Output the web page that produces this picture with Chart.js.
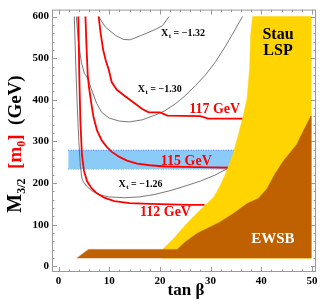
<!DOCTYPE html>
<html><head><meta charset="utf-8">
<script src="https://cdn.jsdelivr.net/npm/chart.js@4.4.0/dist/chart.umd.min.js"></script>
<style>html,body{margin:0;padding:0;background:#fff;}#wrap{width:325px;height:307px;}</style>
</head><body><div id="wrap"><canvas id="c" width="325" height="307"></canvas></div>
<script>
// ---- tick labels ----
const xTicks=[0,10,20,30,40,50];
const yTicks=[0,100,200,300,400,500,600];
// ---- Higgs mass contours (tan beta, M3/2) ----
const h112X=[3.9,4.1,4.3,4.6,5.0,5.6,6.5,7.5,9.0,11.0,14.0,18.0,22.0,26.0,28.8];
const h112Y=[600,450,350,270,230,205,188,176,165,157,152,150,149,148,148];
const h115X=[5.3,5.5,5.75,6.0,6.4,6.9,7.6,8.5,9.5,10.5,12,13.5,15.5,18,21,25,30,34.4];
const h115Y=[600,530,460,430,396,358,326,303,287,275,263,254,247,243,240,239,238,237];
const h117X=[7.9,8.3,8.8,9.3,9.9,10.5,11.5,13,15,16.5,17.8,20,21.5,28,29.5,36.8];
const h117Y=[600,560,520,495,472,442,424,410,392,378,370,370,362,361,355,355];
// ---- X_t contours ----
const xt132X=[7.9,9.2,11.2,12.8,14.1,16.4,19.1,20.5,21.8];
const xt132Y=[600,575,555,545,544,555,569,578,600];
const xt130X=[3.5,3.9,4.5,5.1,5.4,5.8,6.4,7.5,8.5,10,12,14,16.5,19,21,23,25,27,29,31,33,34.8,36.3];
const xt130Y=[600,540,490,463,458,450,428,392,370,356,349,347,352,363,374,390,410,434,460,492,530,568,600];
const xt126X=[3.1,3.4,3.7,4.0,4.3,4.6,4.9,5.5,6.5,8,10,13,16,19,22,25,28,31,33,34.5];
const xt126Y=[600,480,380,300,240,212,203,193,182,172,167,165,167,173,182,193,205,220,233,243];
// ---- blue band ----
const bandX=[1.9,36];
const bandLow=234, bandHigh=279;
// ---- Stau LSP region ----
const stauX=[20.5,22.7,25.3,27.9,30.6,31.9,33.2,34.5,35.5,36.5,37.2,37.7,37.9,38.3,49.8,49.8,20.5];
const stauY=[41,67,103,135,166,194,230,273,317,365,404,475,555,600,600,20,20];
// ---- EWSB region ----
const ewsbX=[3.6,5.9,23.4,25.0,27.3,29.3,31.9,34.5,37.2,39.4,41.1,42.7,44.4,45.7,47.0,48.3,49.8,49.8];
const ewsbY=[20,41,41,59,79,91,107,127,151,163,186,222,254,273,293,325,361,20];

const pts=(xs,ys)=>xs.map((x,i)=>({x:x,y:ys[i]}));
const serif='"Liberation Serif","Times New Roman",serif';

const datasets=[
 {label:'EWSB',data:pts(ewsbX,ewsbY),showLine:true,fill:'shape',backgroundColor:'#bf6100',borderColor:'#bf6100',borderWidth:0.5,pointRadius:0,order:0},
 {label:'Stau LSP',data:pts(stauX,stauY),showLine:true,fill:'shape',backgroundColor:'#ffd400',borderColor:'#ffd400',borderWidth:0.5,pointRadius:0,order:1},
 {label:'112 GeV',data:pts(h112X,h112Y),showLine:true,borderColor:'#ff0000',borderWidth:1.8,pointRadius:0,fill:false,order:2},
 {label:'115 GeV',data:pts(h115X,h115Y),showLine:true,borderColor:'#ff0000',borderWidth:1.8,pointRadius:0,fill:false,order:2},
 {label:'117 GeV',data:pts(h117X,h117Y),showLine:true,borderColor:'#ff0000',borderWidth:1.8,pointRadius:0,fill:false,order:2},
 {label:'Xt -1.32',data:pts(xt132X,xt132Y),showLine:true,borderColor:'#555',borderWidth:0.8,pointRadius:0,fill:false,order:3},
 {label:'Xt -1.30',data:pts(xt130X,xt130Y),showLine:true,borderColor:'#555',borderWidth:0.8,pointRadius:0,fill:false,order:3},
 {label:'Xt -1.26',data:pts(xt126X,xt126Y),showLine:true,borderColor:'#555',borderWidth:0.8,pointRadius:0,fill:false,order:3},
 {label:'band top',data:bandX.map(x=>({x:x,y:bandHigh})),showLine:true,borderColor:'#3a6cff',borderWidth:1,borderDash:[1,1.5],pointRadius:0,fill:'+1',backgroundColor:'#8acbf8',order:4},
 {label:'band bottom',data:bandX.map(x=>({x:x,y:bandLow})),showLine:true,borderColor:'#3a6cff',borderWidth:1,borderDash:[1,1.5],pointRadius:0,fill:false,order:4}
];

const labels={
 higgs:[{t:'117 GeV',x:30.8,y:377},{t:'115 GeV',x:25.2,y:253},{t:'112 GeV',x:21.1,y:130}],
 xt:[{v:'= \u22121.32',x:24.5,y:560},{v:'= \u22121.30',x:19.9,y:425},{v:'= \u22121.26',x:16.1,y:197}]
};

const deco={
 id:'deco',
 afterDatasetsDraw(chart){
  const ctx=chart.ctx, xs=chart.scales.x, ys=chart.scales.y, a=chart.chartArea;
  ctx.save();
  ctx.textBaseline='middle';
  // higgs labels
  ctx.fillStyle='#ff0000'; ctx.textAlign='center';
  ctx.font='bold 14px '+serif;
  labels.higgs.forEach(l=>ctx.fillText(l.t,xs.getPixelForValue(l.x),ys.getPixelForValue(l.y)));
  // Xt labels
  ctx.fillStyle='#000'; ctx.textAlign='left';
  labels.xt.forEach(l=>{
    const px=xs.getPixelForValue(l.x), py=ys.getPixelForValue(l.y);
    ctx.font='bold 10px '+serif; const wX=ctx.measureText('X').width; const wV=ctx.measureText(' '+l.v).width;
    ctx.font='bold 7px '+serif; const wt=ctx.measureText('t').width;
    let x0=px-(wX+wt+wV)/2;
    ctx.font='bold 10px '+serif; ctx.fillText('X',x0,py);
    ctx.font='bold 7px '+serif; ctx.fillText('t',x0+wX+0.5,py+3);
    ctx.font='bold 10px '+serif; ctx.fillText(' '+l.v,x0+wX+wt+0.5,py);
  });
  // region labels
  ctx.textAlign='center';
  ctx.font='bold 16px '+serif; ctx.fillStyle='#000';
  ctx.fillText('Stau',xs.getPixelForValue(43.3),ys.getPixelForValue(555));
  ctx.fillText('LSP',xs.getPixelForValue(43.3),ys.getPixelForValue(517));
  ctx.font='bold 15px '+serif; ctx.fillStyle='#fff';
  ctx.fillText('EWSB',xs.getPixelForValue(42.3),ys.getPixelForValue(66));
  ctx.restore();
 },
 afterDraw(chart){
  const ctx=chart.ctx, xs=chart.scales.x, ys=chart.scales.y, a=chart.chartArea;
  ctx.save();
  ctx.strokeStyle='#9a9a9a'; ctx.lineWidth=1;
  ctx.strokeRect(a.left+0.5,a.top+0.5,a.right-a.left-1,a.bottom-a.top-1);
  ctx.beginPath();
  for(let v=0;v<=50;v+=2){
    const px=Math.round(xs.getPixelForValue(v))+0.5, L=(v%10===0)?5:2.5;
    ctx.moveTo(px,a.bottom); ctx.lineTo(px,a.bottom-L);
    ctx.moveTo(px,a.top); ctx.lineTo(px,a.top+L);
  }
  for(let v=0;v<=600;v+=20){
    const py=Math.round(ys.getPixelForValue(v))+0.5, L=(v%100===0)?5:2.5;
    ctx.moveTo(a.left,py); ctx.lineTo(a.left+L,py);
    ctx.moveTo(a.right,py); ctx.lineTo(a.right-L,py);
  }
  ctx.stroke();
  // x title
  ctx.fillStyle='#000'; ctx.textAlign='center'; ctx.textBaseline='middle';
  ctx.font='bold 17px '+serif;
  ctx.fillText('tan \u03b2',(a.left+a.right)/2+2,291);
  // y title (rotated)
  const pieces=[
    {t:'M',f:20,c:'#000',dy:0},{t:'3/2',f:12,c:'#000',dy:4},{t:'  ',f:19,c:'#000',dy:0},
    {t:'[m',f:19,c:'#ff0000',dy:0},{t:'0',f:12,c:'#ff0000',dy:4},{t:']',f:19,c:'#ff0000',dy:0},
    {t:'  ',f:19,c:'#000',dy:0},{t:'(GeV)',f:19,c:'#000',dy:0}];
  let tot=0; pieces.forEach(p=>{ctx.font='bold '+p.f+'px '+serif; p.w=ctx.measureText(p.t).width; tot+=p.w;});
  ctx.translate(21,144); ctx.rotate(-Math.PI/2);
  ctx.textAlign='left'; ctx.textBaseline='alphabetic';
  let x=-tot/2;
  pieces.forEach(p=>{ctx.font='bold '+p.f+'px '+serif; ctx.fillStyle=p.c; ctx.fillText(p.t,x,p.dy); x+=p.w;});
  ctx.restore();
 }
};

new Chart(document.getElementById('c'),{
 type:'scatter',
 data:{datasets:datasets},
 options:{
  responsive:false, animation:false, devicePixelRatio:1,
  layout:{padding:{left:0,top:7,right:9,bottom:0}},
  plugins:{legend:{display:false},tooltip:{enabled:false},title:{display:false}},
  scales:{
   x:{type:'linear',min:-1.3,max:50.8,
      afterBuildTicks:s=>{s.ticks=xTicks.map(v=>({value:v}));},
      afterFit:s=>{s.height=35;},
      grid:{display:false,drawTicks:false},border:{display:false},
      ticks:{font:{family:serif,size:11,weight:'bold'},color:'#000',padding:3,maxRotation:0,autoSkip:false}},
   y:{type:'linear',min:-13.3,max:616.6,
      afterBuildTicks:s=>{s.ticks=yTicks.map(v=>({value:v}));},
      afterFit:s=>{s.width=52;},
      grid:{display:false,drawTicks:false},border:{display:false},
      ticks:{font:{family:serif,size:11,weight:'bold'},color:'#000',padding:3,autoSkip:false}}
  }
 },
 plugins:[deco]
});
</script>
</body></html>
